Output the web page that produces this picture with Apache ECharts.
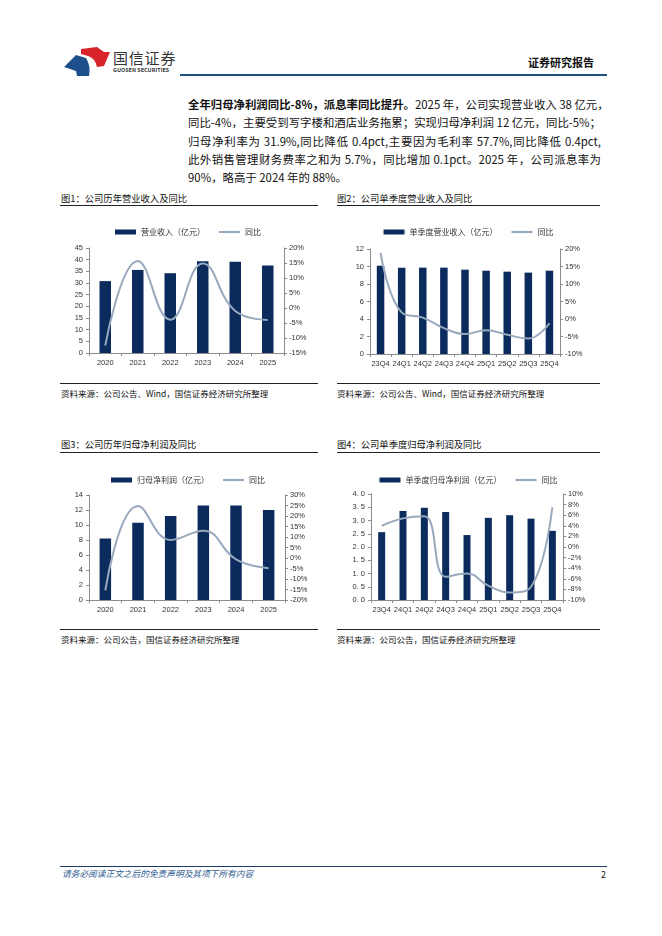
<!DOCTYPE html>
<html>
<head>
<meta charset="utf-8">
<script src="https://cdn.jsdelivr.net/npm/echarts@6/dist/echarts.min.js"></script>
<style>
  html, body { margin: 0; padding: 0; background: #fff; }
  #page { position: relative; width: 662px; height: 936px; overflow: hidden;
          font-family: "Noto Sans CJK SC", "Noto Sans", sans-serif; color: #111; }
  .abs { position: absolute; white-space: nowrap; line-height: 1; }
  .para { position: absolute; left: 188px; width: 413px; font-size: 11.4px; line-height: 18px;
          white-space: nowrap; color: #111; }
  .just { text-align: justify; text-align-last: justify; }
  .figtitle { position: absolute; font-size: 9.3px; color: #111; }
  .rule { position: absolute; height: 0; border-top: 1px solid #222; }
  .src { position: absolute; font-size: 8.5px; color: #111; }
  .chart { position: absolute; }
</style>
</head>
<body>
<div id="page">
  <!-- header -->
  <svg class="abs" style="left:64px;top:46px" width="48" height="30" viewBox="0 0 48 30">
    <path d="M0 21 L12 9 L22 12 Q27 20 25 30 L13 30 L12 25 Z" fill="#1d4f8c"/>
    <path d="M17 3 L33 1 L40 6 L46 6 L40 20 L33 21 Q31 12 24 10 L17 8 Z" fill="#d8232a"/>
  </svg>
  <div class="abs" style="left:113px;top:50px;font-size:15px;color:#333;letter-spacing:0.8px">国信证券</div>
  <div class="abs" style="left:113px;top:68px;font-size:5.4px;color:#333;font-weight:bold;letter-spacing:0.05px">GUOSEN SECURITIES</div>
  <div class="abs" style="left:528px;top:57px;font-size:11px;font-weight:bold;color:#111">证券研究报告</div>
  <div class="rule" style="left:180px;top:74px;width:427px;border-top:2px solid #1f4e85"></div>

  <!-- paragraph -->
  <div class="para just" style="top:95px"><b>全年归母净利润同比-8%，派息率同比提升。</b>2025 年，公司实现营业收入 38 亿元，</div>
  <div class="para just" style="top:113px">同比-4%，主要受到写字楼和酒店业务拖累；实现归母净利润 12 亿元，同比-5%；</div>
  <div class="para just" style="top:131.5px">归母净利率为 31.9%,同比降低 0.4pct,主要因为毛利率 57.7%,同比降低 0.4pct,</div>
  <div class="para just" style="top:150px">此外销售管理财务费率之和为 5.7%，同比增加 0.1pct。2025 年，公司派息率为</div>
  <div class="para" style="top:168px">90%，略高于 2024 年的 88%。</div>

  <!-- figure 1 / 2 -->
  <div class="figtitle" style="left:61px;top:191px">图1：公司历年营业收入及同比</div>
  <div class="rule" style="left:60px;top:205px;width:258px"></div>
  <div class="figtitle" style="left:337px;top:191px">图2：公司单季度营业收入及同比</div>
  <div class="rule" style="left:337px;top:205px;width:263px"></div>
  <div id="c1" class="chart" style="left:58px;top:212px;width:260px;height:168px"></div>
  <div id="c2" class="chart" style="left:337px;top:212px;width:263px;height:168px"></div>
  <div class="rule" style="left:60px;top:383px;width:258px"></div>
  <div class="src" style="left:61px;top:387px">资料来源：公司公告、Wind，国信证券经济研究所整理</div>
  <div class="rule" style="left:337px;top:383px;width:263px"></div>
  <div class="src" style="left:337px;top:387px">资料来源：公司公告、Wind，国信证券经济研究所整理</div>

  <!-- figure 3 / 4 -->
  <div class="figtitle" style="left:61px;top:437px">图3：公司历年归母净利润及同比</div>
  <div class="rule" style="left:60px;top:452px;width:258px"></div>
  <div class="figtitle" style="left:337px;top:437px">图4：公司单季度归母净利润及同比</div>
  <div class="rule" style="left:337px;top:452px;width:263px"></div>
  <div id="c3" class="chart" style="left:58px;top:458px;width:260px;height:168px"></div>
  <div id="c4" class="chart" style="left:337px;top:458px;width:263px;height:168px"></div>
  <div class="rule" style="left:60px;top:629px;width:258px"></div>
  <div class="src" style="left:61px;top:633px">资料来源：公司公告，国信证券经济研究所整理</div>
  <div class="rule" style="left:337px;top:629px;width:263px"></div>
  <div class="src" style="left:337px;top:633px">资料来源：公司公告，国信证券经济研究所整理</div>

  <!-- footer -->
  <div class="rule" style="left:60px;top:866px;width:547px;border-top:1px solid #1f3c66"></div>
  <div class="abs" style="left:62px;top:870px;font-size:8.7px;font-style:italic;color:#2f5a8f">请务必阅读正文之后的免责声明及其项下所有内容</div>
  <div class="abs" style="left:601px;top:870px;font-size:9px;color:#111">2</div>
</div>

<script>
// 年度
const years = ['2020', '2021', '2022', '2023', '2024', '2025'];
const revenue = [30.8, 35.6, 34.2, 39.3, 39.1, 37.5];          // 营业收入（亿元）
const revenueYoy = [-12.5, 15.7, -3.9, 14.8, -1.0, -4.0];       // 同比 %
const netProfit = [8.2, 10.3, 11.2, 12.6, 12.6, 12.0];          // 归母净利润（亿元）
const netProfitYoy = [-15.4, 24.8, 8.6, 13.0, -0.6, -4.9];

// 单季度
const quarters = ['23Q4', '24Q1', '24Q2', '24Q3', '24Q4', '25Q1', '25Q2', '25Q3', '25Q4'];
const qRevenue = [10.1, 9.87, 9.87, 9.87, 9.64, 9.52, 9.41, 9.3, 9.52];
const qRevenueYoy = [18.9, 1.9, 0.4, -2.6, -4.3, -3.2, -4.5, -5.6, -1.2];
const qNetProfit = [2.56, 3.36, 3.48, 3.32, 2.45, 3.10, 3.20, 3.07, 2.61];
const qNetProfitYoy = [4.0, 5.4, 5.8, -5.6, -5.0, -7.3, -8.6, -7.5, 7.5];

const BAR = '#0b2b5c';
const LINE = '#98a9bd';
const AXIS = '#8c8c8c';
const LABEL_FONT = '"Liberation Sans", Arial, sans-serif';

function axisStyle(pos) {
    return {
        axisLine: {show: true, lineStyle: {color: AXIS, width: 1}},
        axisTick: {show: true, inside: false, length: 3, lineStyle: {color: AXIS}},
        splitLine: {show: false},
        position: pos
    };
}

function makeChart(id, cats, bars, yoy, names, cfg) {
    const chart = echarts.init(document.getElementById(id), null, {renderer: 'canvas'});
    const option = {
        animation: false,
        legend: {
            top: cfg.legendTop,
            left: 'center',
            itemGap: 14,
            itemWidth: 21,
            itemHeight: 5,
            textStyle: {fontSize: 8, color: '#333', fontFamily: '"Noto Sans CJK SC", sans-serif'},
            data: [
                {name: names[0], icon: 'rect'},
                // 折线图例：细横线
                {name: names[1], icon: 'path://M0 0H40V4H0Z'}
            ]
        },
        grid: cfg.grid,
        xAxis: {
            type: 'category',
            data: cats,
            axisLine: {show: true, lineStyle: {color: AXIS}},
            axisTick: {show: true, length: 3, lineStyle: {color: AXIS}},
            axisLabel: {fontSize: 7.5, color: '#333', margin: 6, fontFamily: LABEL_FONT, interval: 0}
        },
        yAxis: [
            Object.assign(axisStyle('left'), {
                type: 'value',
                min: cfg.left[0], max: cfg.left[1], interval: cfg.left[2],
                axisLabel: {
                    fontSize: 7.5, color: '#333', margin: 6, fontFamily: LABEL_FONT,
                    formatter: v => cfg.leftDec ? v.toFixed(cfg.leftDec).replace('.', '. ') : v
                }
            }),
            Object.assign(axisStyle('right'), {
                type: 'value',
                min: cfg.right[0], max: cfg.right[1], interval: cfg.right[2],
                axisLabel: {fontSize: 7.5, color: '#333', margin: 5, fontFamily: LABEL_FONT,
                    formatter: v => v + '%'}
            })
        ],
        series: [
            {
                name: names[0],
                type: 'bar',
                yAxisIndex: 0,
                data: bars,
                barWidth: cfg.barWidth,
                itemStyle: {color: BAR}
            },
            {
                name: names[1],
                type: 'line',
                yAxisIndex: 1,
                data: yoy,
                smooth: 0.45,
                showSymbol: false,
                symbol: 'none',
                lineStyle: {color: LINE, width: 2},
                itemStyle: {color: LINE}
            }
        ]
    };
    chart.setOption(option);
    return chart;
}

makeChart('c1', years, revenue, revenueYoy, ['营业收入（亿元）', '同比'], {
    legendTop: 11,
    grid: {left: 31, right: 34, top: 36, bottom: 27},
    left: [0, 45, 5], right: [-15, 20, 5], barWidth: 11.5
});
makeChart('c2', quarters, qRevenue, qRevenueYoy, ['单季度营业收入（亿元）', '同比'], {
    legendTop: 11,
    grid: {left: 33, right: 40, top: 37, bottom: 26},
    left: [0, 12, 2], right: [-10, 20, 5], barWidth: 7.5
});
makeChart('c3', years, netProfit, netProfitYoy, ['归母净利润（亿元）', '同比'], {
    legendTop: 13,
    grid: {left: 31, right: 33, top: 37, bottom: 26},
    left: [0, 14, 2], right: [-20, 30, 5], barWidth: 11.5
});
makeChart('c4', quarters, qNetProfit, qNetProfitYoy, ['单季度归母净利润（亿元）', '同比'], {
    legendTop: 13,
    grid: {left: 34, right: 37, top: 36, bottom: 26},
    left: [0, 4, 0.5], right: [-10, 10, 2], barWidth: 7, leftDec: 1
});
</script>
</body>
</html>
